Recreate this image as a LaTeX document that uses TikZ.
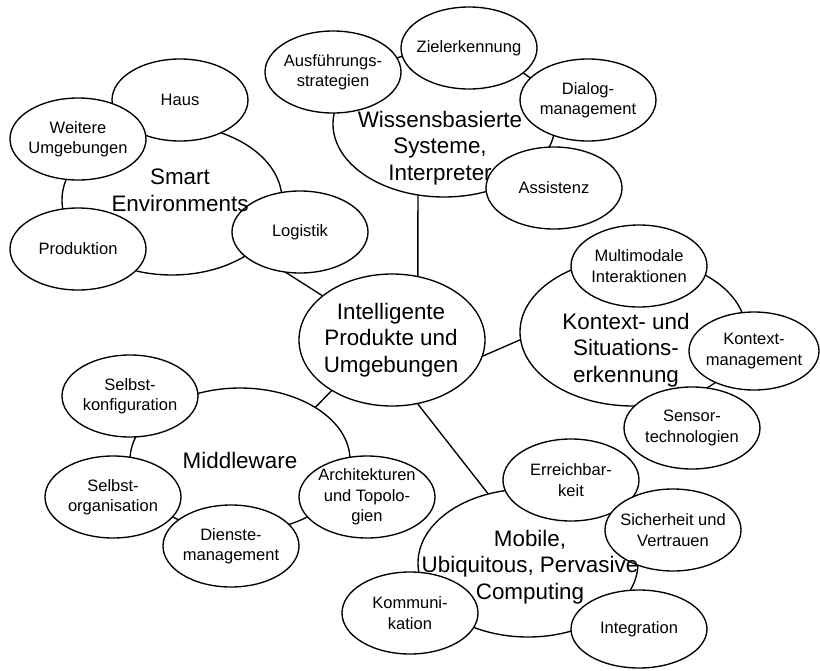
\documentclass[tikz,border=0pt]{standalone}
\usepackage{fontspec}
\setmainfont{Liberation Sans}
\usetikzlibrary{shapes.geometric}

\begin{document}
\begin{tikzpicture}[x=1pt,y=-1pt,line width=1.35pt]
		\tikzset{gross/.style={ellipse,draw,fill=white,inner sep=0pt}}
		\tikzset{klein/.style={ellipse,draw,fill=white,minimum width=136pt,minimum height=82pt,inner xsep=-14pt,inner ysep=0pt,align=center,font=\fontsize{16.5}{20.5}\selectfont}}
		\tikzset{titel/.style={align=center,inner sep=0pt,font=\fontsize{22.4}{26.6}\selectfont}}
		\useasboundingbox (0,0) rectangle (820,670);
		\node[gross,minimum width=220pt,minimum height=150pt] (smart) at (172,200) {};
		\node[gross,minimum width=222pt,minimum height=146pt] (wissen) at (444,124) {};
		\node[gross,minimum width=226pt,minimum height=148pt] (kontext) at (633,332) {};
		\node[gross,minimum width=220pt,minimum height=148pt] (mobil) at (528,563) {};
		\node[gross,minimum width=220pt,minimum height=144pt] (middleware) at (240,460) {};
		\node[gross,minimum width=186pt,minimum height=132pt] (mitte) at (392,340) {};
		\draw (mitte) -- (smart);
		\draw (mitte.68) -- (wissen.250);
		\draw (mitte.-10) -- (kontext.184);
		\draw (mitte.-68) -- (mobil.120);
		\draw (mitte.220) -- (middleware.35);
		\node[klein] (haus) at (180,100) {Haus};
		\node[klein] (weitere) at (78,139) {Weitere\\Umgebungen};
		\node[klein] (produktion) at (78,249) {Produktion};
		\node[klein] (logistik) at (300,232) {Logistik};
		\node[klein] (ausfuehrung) at (333,72) {Ausführungs-\\strategien};
		\node[klein] (ziel) at (469,48) {Zielerkennung};
		\node[klein] (dialog) at (588,100) {Dialog-\\management};
		\node[klein] (assistenz) at (554,188) {Assistenz};
		\node[klein] (multimodal) at (639,266) {Multimodale\\Interaktionen};
		\node[klein,minimum width=130pt,minimum height=78pt] (kontextmgmt) at (754,351) {Kontext-\\management};
		\node[klein] (sensor) at (692,428) {Sensor-\\technologien};
		\node[klein] (erreichbar) at (571,480) {Erreichbar-\\keit};
		\node[klein] (sicherheit) at (673,530) {Sicherheit und\\Vertrauen};
		\node[klein,minimum height=78pt] (integration) at (639,629) {Integration};
		\node[klein] (kommunikation) at (410,613) {Kommuni-\\kation};
		\node[klein] (konfig) at (130,396) {Selbst-\\konfiguration};
		\node[klein] (organisation) at (113,497) {Selbst-\\organisation};
		\node[klein] (dienste) at (231,546) {Dienste-\\management};
		\node[klein] (architektur) at (367,497) {Architekturen\\und Topolo-\\gien};
		\node[titel] (smart-t) at (180,190) {Smart\\Environments};
		\node[titel] (wissen-t) at (440,148) {Wissensbasierte\\Systeme,\\Interpreter};
		\node[titel] (kontext-t) at (626,350) {Kontext- und\\Situations-\\erkennung};
		\node[titel] (mobil-t) at (530,567) {Mobile,\\Ubiquitous, Pervasive\\Computing};
		\node[titel] (middleware-t) at (240,460) {Middleware};
		\node[titel] (mitte-t) at (391,340) {Intelligente\\Produkte und\\Umgebungen};
		\end{tikzpicture}
\end{document}
